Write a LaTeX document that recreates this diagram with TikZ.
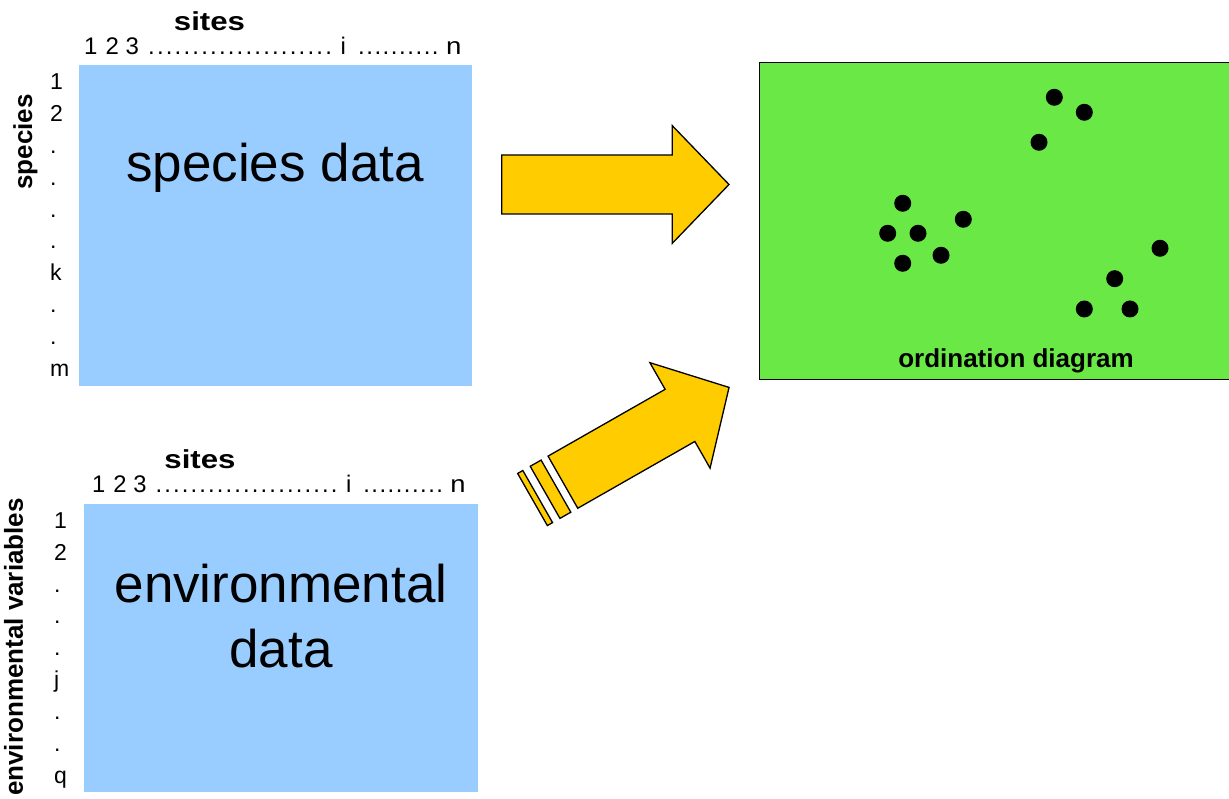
\documentclass[tikz,border=0pt]{standalone}
\usepackage{fontspec}
\setmainfont{Liberation Sans}

\definecolor{databl}{RGB}{153,204,255}
\definecolor{ordgreen}{RGB}{106,232,70}
\definecolor{arrowyel}{RGB}{255,204,0}

\tikzset{
  databox/.style={fill=databl, draw=none, anchor=north west, inner sep=0pt},
  bigtext/.style={font=\fontsize{53}{60}\selectfont, inner sep=0pt, anchor=base},
  axistitle/.style={font=\fontsize{26}{30}\selectfont\bfseries, inner sep=0pt, anchor=base},
  ticklabel/.style={font=\fontsize{24}{28}\selectfont, inner sep=0pt, anchor=base west},
  rowlabel/.style={font=\fontsize{23}{28}\selectfont, inner sep=0pt, anchor=base west},
  blockarrow/.style={fill=arrowyel, draw=black, line width=1.3pt, line join=miter},
  sitedot/.style={circle, fill=black, inner sep=0pt, minimum size=17pt},
  ordframe/.style={fill=ordgreen, draw=black, line width=1.3pt, anchor=north west, inner sep=0pt},
}

% a run of #1 evenly pitched dots, #2 apart
\newcommand{\dotrun}[2]{\foreach \k in {1,...,#1}{\makebox[#2][l]{.}}}
% column header of a data matrix: 1 2 3 ... i ... n
\newcommand{\sitesrow}{%
  \makebox[21.5pt][l]{1}\makebox[20pt][l]{2}\makebox[22.5pt][l]{3}%
  \dotrun{21}{8.85pt}\makebox[6.5pt]{}\makebox[17.5pt][l]{i}%
  \dotrun{10}{8.2pt}\makebox[6pt]{}\scalebox{1.15}[1]{n}}

\begin{document}
\begin{tikzpicture}[x=1pt,y=1pt]
\useasboundingbox (0,0) rectangle (1229,799);

% ---------- species data matrix ----------
\node[databox, minimum width=393pt, minimum height=321pt] (spbox) at (79,734) {};
\node[bigtext] (sptext) at (275,617) {species data};
\node[axistitle] (spsites) at (209.5,768.3) {\scalebox{1.2}[1]{sites}};
\node[ticklabel] (spcols) at (84,744) {\sitesrow};
\node[axistitle, rotate=90] (sprowtitle) at (32,657) {species};
\foreach \t [count=\i from 0] in {1,2,.,.,.,.,k,.,.,m}
  \node[rowlabel] (sprow\i) at (50,{799-89.3-31.93*\i}) {\t};

% ---------- environmental data matrix ----------
\node[databox, minimum width=394pt, minimum height=288pt] (envbox) at (84,295) {};
\node[bigtext] (envtextA) at (281,196) {environmental};
\node[bigtext] (envtextB) at (281,131) {data};
\node[axistitle] (envsites) at (200,330) {\scalebox{1.2}[1]{sites}};
\node[ticklabel] (envcols) at (92,306) {\scalebox{0.99}[1]{\sitesrow}};
\node[axistitle, rotate=90] (envrowtitle) at (23,152) {environmental variables};
\foreach \t [count=\i from 0] in {1,2,.,.,.,j,.,.,q}
  \node[rowlabel] (envrow\i) at (54,{799-528.3-31.9*\i}) {\t};

% ---------- ordination diagram ----------
\node[ordframe, minimum width=473pt, minimum height=317pt] (ordbox) at (759,737) {};
\foreach \px/\py [count=\i] in {
    1054.3/701.7, 1084.3/686.7, 1039/656.7,
    902.7/595.7, 963.3/579.7, 887.7/565.7, 918/565.7, 941/543.7, 902.7/535.7,
    1160/550.7, 1114.7/520.3, 1084.3/490, 1130/490}
  \node[sitedot] (dot\i) at (\px,\py) {};
\node[axistitle] (ordtitle) at (1016,431.7) {ordination diagram};

% ---------- block arrows ----------
% species data -> ordination diagram
\begin{scope}[shift={(501.7,614.5)}]
  \coordinate (arrAtail) at (0,0);
  \coordinate (arrAtip) at (227.3,0);
  \draw[blockarrow] (0,29.5) -- (170.6,29.5) -- (170.6,58.8) -- (arrAtip)
    -- (170.6,-58.8) -- (170.6,-29.5) -- (0,-29.5) -- cycle;
\end{scope}

% environmental data -> ordination diagram, with two trailing strips
\begin{scope}[shift={(562.9,316.8)}, rotate=29.7]
  \coordinate (arrBtail) at (0,0);
  \coordinate (arrBtip) at (191.3,0);
  \draw[blockarrow] (0,30) -- (134.8,30) -- (134.8,60.7) -- (arrBtip)
    -- (134.8,-60.7) -- (134.8,-30) -- (0,-30) -- cycle;
  \draw[blockarrow] (-20.5,-30) rectangle (-8,30);
  \draw[blockarrow] (-35,-30) rectangle (-29,30);
\end{scope}

\end{tikzpicture}
\end{document}
